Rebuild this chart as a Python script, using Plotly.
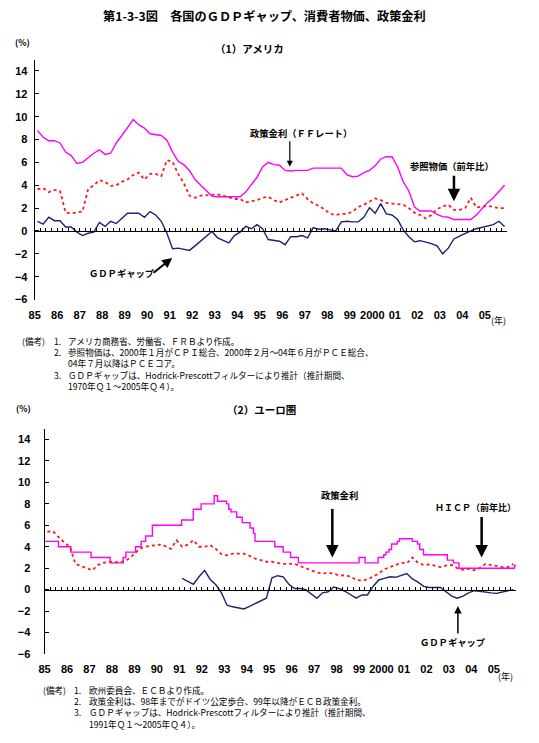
import plotly.graph_objects as go

# ---------------- data ----------------
YEARS = list(range(1985, 2006))
YEAR_LABELS = ["85", "86", "87", "88", "89", "90", "91", "92", "93", "94", "95",
               "96", "97", "98", "99", "2000", "01", "02", "03", "04", "05"]

# quarterly positions (quarter mid-points), 1985Q1 .. 2005Q4
Q_ALL = [y + (q + 0.5) / 4 for y in YEARS for q in range(4)]
Q_EURO_GAP = [y + (q + 0.5) / 4 for y in range(1991, 2006) for q in range(4)]

# (1) USA
us_ff = [8.8, 8.2, 7.9, 7.9,
         7.7, 6.9, 6.6, 5.9,
         6.0, 6.4, 6.8, 7.1,
         6.7, 6.8, 7.7, 8.35,
         9.1, 9.75, 9.3, 9.0,
         8.5, 8.4, 8.35, 7.95,
         6.9, 6.1, 5.8, 5.3,
         4.5, 4.0, 3.5, 3.05,
         3.0, 3.0, 3.0, 3.0,
         3.0, 3.4, 4.1, 4.7,
         5.6, 6.0, 5.8, 5.75,
         5.3, 5.25, 5.3, 5.3,
         5.3, 5.5, 5.5, 5.5,
         5.5, 5.5, 5.5, 4.9,
         4.75, 4.8, 5.1, 5.3,
         5.7, 6.3, 6.5, 6.5,
         5.6, 4.3, 3.5, 2.1,
         1.75, 1.75, 1.75, 1.45,
         1.25, 1.2, 1.0, 1.0,
         1.0, 1.0, 1.4, 1.95,
         2.5, 2.9, 3.45, 4.0]

us_cpi = [3.65, 3.75, 3.4, 3.6,
          3.5, 1.6, 1.55, 1.6,
          1.7, 3.65, 4.0, 4.45,
          4.3, 3.95, 4.0, 4.3,
          4.5, 4.9, 5.1, 4.5,
          5.0, 5.0, 4.8, 6.2,
          6.05, 5.0, 4.2, 3.1,
          2.9, 3.1, 3.1, 3.15,
          3.2, 3.1, 2.95, 2.8,
          2.8, 2.5, 2.6, 2.7,
          2.9, 3.0, 2.7, 2.5,
          2.7, 2.9, 3.1, 3.3,
          2.8, 2.4, 2.2, 1.9,
          1.5, 1.4, 1.5, 1.5,
          1.7, 2.1, 2.3, 2.6,
          2.85, 2.7, 2.45, 2.4,
          2.35, 2.3, 2.0, 1.6,
          1.4, 1.1, 1.4, 1.9,
          2.15, 2.3, 1.85, 1.85,
          2.0, 2.9, 2.05, 2.1,
          2.2, 2.1, 2.0, 2.0]

us_gap = [0.85, 0.6, 1.2, 0.9,
          0.9, 0.35, 0.35, -0.1,
          -0.4, -0.2, -0.1, 0.75,
          0.4, 0.85, 0.65, 1.1,
          1.55, 1.55, 1.55, 1.2,
          1.7, 1.4, 0.85, -0.2,
          -1.55, -1.5, -1.6, -1.7,
          -1.3, -0.9, -0.5, -0.05,
          -0.6, -0.8, -1.05, -0.4,
          -0.1, 0.4, 0.2, 0.55,
          0.2, -0.75, -0.85, -0.9,
          -1.2, -0.5, -0.5, -0.4,
          -0.6, 0.3, 0.15, 0.2,
          0.1, 0.0, 0.8, 0.85,
          0.8, 0.8, 1.2, 2.05,
          1.55, 2.4, 1.5, 1.4,
          1.0, 0.1, -0.5, -0.95,
          -0.85, -0.95, -1.1, -1.3,
          -2.0, -1.5, -0.7, -0.45,
          -0.2, 0.0, 0.2, 0.3,
          0.45, 0.55, 0.85, 0.4]

# (2) Euro area
euro_rate_dates = [1985.0, 1985.62, 1986.17, 1987.07, 1987.92, 1988.5, 1988.62,
                   1989.05, 1989.3, 1989.5, 1989.8, 1991.1, 1991.62, 1991.97,
                   1992.55, 1992.7, 1993.1, 1993.2, 1993.3, 1993.55, 1993.8,
                   1994.15, 1994.3, 1994.37, 1995.25, 1995.62, 1995.95, 1996.3,
                   1999.0, 1999.27, 1999.85, 2000.1, 2000.2, 2000.33, 2000.45,
                   2000.7, 2000.8, 2001.37, 2001.6, 2001.7, 2001.87, 2002.93,
                   2003.2, 2003.45, 2005.92, 2006.0]
euro_rate_levels = [4.5, 4.0, 3.5, 3.0, 2.5, 3.0, 3.5,
                    4.0, 4.5, 5.0, 6.0, 6.5, 7.5, 8.0,
                    8.75, 8.25, 8.0, 7.5, 7.25, 6.75, 6.25,
                    5.75, 5.25, 4.5, 4.0, 3.5, 3.0, 2.5,
                    3.0, 2.5, 3.0, 3.25, 3.5, 3.75, 4.25,
                    4.5, 4.75, 4.5, 4.25, 3.75, 3.25, 2.75,
                    2.5, 2.0, 2.25, 2.25]

euro_hicp = [5.4, 5.45, 4.9, 4.4,
             4.0, 2.4, 2.2, 2.0,
             1.8, 2.3, 2.5, 2.6,
             2.55, 2.55, 2.7, 3.1,
             3.6, 3.95, 4.05, 4.1,
             4.2, 4.05, 3.8, 4.6,
             4.0, 4.2, 4.6, 4.0,
             4.0, 4.15, 3.8, 3.3,
             3.2, 3.35, 3.35, 3.35,
             3.15, 2.9, 2.75, 2.6,
             2.6, 2.5, 2.4, 2.4,
             2.4, 2.2, 2.0, 1.8,
             1.6, 1.5, 1.55, 1.5,
             1.3, 1.35, 1.2, 0.9,
             0.85, 0.95, 1.2, 1.5,
             1.9, 2.1, 2.3, 2.5,
             2.45, 3.0, 2.5, 2.3,
             2.35, 2.2, 2.1, 2.25,
             2.3, 2.0, 1.85, 1.95,
             1.8, 2.0, 2.4, 2.3,
             2.2, 2.1, 2.1, 2.4]

euro_gap = [1.05, 0.8, 0.5, 1.2,
            1.8, 0.95, 0.45, -0.3,
            -1.45, -1.6, -1.7, -1.8,
            -1.55, -1.3, -1.05, -0.8,
            1.1, 1.3, 1.2, 0.5,
            0.1, 0.1, 0.0, -0.4,
            -0.8, -0.3, -0.2, 0.25,
            0.1, -0.15, -0.5, -0.8,
            -0.5, -0.5, 0.3, 0.9,
            1.05, 1.2, 1.15, 1.3,
            1.5, 1.0, 0.7, 0.3,
            0.2, 0.2, 0.2, -0.2,
            -0.6, -0.8, -0.6, -0.3,
            -0.1, -0.15, -0.25, -0.3,
            -0.35, -0.2, -0.1, 0.0]

US_NOTES = ["アメリカ商務省、労働省、ＦＲＢより作成。",
            "参照物価は、2000年１月がＣＰＩ総合、2000年２月～04年６月がＰＣＥ総合、",
            "04年７月以降はＰＣＥコア。",
            "ＧＤＰギャップは、Hodrick-Prescottフィルターにより推計（推計期間、",
            "1970年Ｑ１～2005年Ｑ４）。"]
EU_NOTES = ["欧州委員会、ＥＣＢより作成。",
            "政策金利は、98年までがドイツ公定歩合、99年以降がＥＣＢ政策金利。",
            "ＧＤＰギャップは、Hodrick-Prescottフィルターにより推計（推計期間、",
            "1991年Ｑ１～2005年Ｑ４）。"]

# ---------------- styling ----------------
W, H = 539, 743
MAGENTA = "#FF00FF"
RED = "#FF1A1A"
NAVY = "#1C2473"
JP = "Noto Sans CJK JP, sans-serif"
NUM = "Liberation Sans, Arial, sans-serif"


def PX(x):
    return x / W


def PY(y):
    return 1 - y / H


YMIN, YMAX = -6, 15
top_x = [PX(29), PX(507)]
top_y = [PY(302), PY(60)]
bot_x = [PX(39), PX(516)]
bot_y = [PY(659.3), PY(432.3)]


def zero_pos(dom):
    return dom[0] + (0 - YMIN) / (YMAX - YMIN) * (dom[1] - dom[0])


fig = go.Figure()

# top panel
fig.add_trace(go.Scatter(x=Q_ALL, y=us_ff, mode="lines", line=dict(color=MAGENTA, width=1.4),
                         xaxis="x", yaxis="y", showlegend=False))
fig.add_trace(go.Scatter(x=Q_ALL, y=us_cpi, mode="lines", line=dict(color=RED, width=1.8, dash="dot"),
                         xaxis="x", yaxis="y", showlegend=False))
fig.add_trace(go.Scatter(x=Q_ALL, y=us_gap, mode="lines", line=dict(color=NAVY, width=1.4),
                         xaxis="x3", yaxis="y", showlegend=False))
# bottom panel
fig.add_trace(go.Scatter(x=euro_rate_dates, y=euro_rate_levels, mode="lines", line_shape="hv",
                         line=dict(color=MAGENTA, width=1.4), xaxis="x2", yaxis="y2", showlegend=False))
fig.add_trace(go.Scatter(x=Q_ALL, y=euro_hicp, mode="lines", line=dict(color=RED, width=1.8, dash="dot"),
                         xaxis="x2", yaxis="y2", showlegend=False))
fig.add_trace(go.Scatter(x=Q_EURO_GAP, y=euro_gap, mode="lines", line=dict(color=NAVY, width=1.4),
                         xaxis="x4", yaxis="y2", showlegend=False))

tickfont = dict(family=NUM, size=11, color="black", weight="bold")


def label_axis(dom, anchor):
    return dict(domain=dom, range=[1985, 2006], anchor=anchor, tickmode="array",
                tickvals=YEARS, ticktext=YEAR_LABELS, showline=False, ticks="outside",
                tickcolor="rgba(0,0,0,0)", ticklen=5, tickfont=tickfont,
                showgrid=False, zeroline=False, fixedrange=True)


def value_axis(dom, anchor, standoff):
    return dict(domain=dom, range=[YMIN, YMAX], anchor=anchor, tick0=0, dtick=2,
                showline=True, linecolor="black", linewidth=1, ticks="inside", ticklen=4,
                tickcolor="black", tickfont=tickfont, showgrid=False, zeroline=False,
                ticklabelstandoff=standoff, fixedrange=True)


def zero_axis(dom_x, pos, over):
    return dict(domain=dom_x, range=[1985, 2006], overlaying=over, anchor="free", position=pos,
                tick0=1985, dtick=0.25, ticks="inside", ticklen=3, tickcolor="black",
                showline=True, linecolor="black", linewidth=1, showticklabels=False,
                showgrid=False, zeroline=False, fixedrange=True)


fig.update_layout(
    width=W, height=H, autosize=False,
    margin=dict(l=0, r=0, t=0, b=0),
    paper_bgcolor="white", plot_bgcolor="white",
    xaxis=label_axis(top_x, "y"),
    yaxis=value_axis(top_y, "x", 4),
    xaxis3=zero_axis(top_x, zero_pos(top_y), "x"),
    xaxis2=label_axis(bot_x, "y2"),
    yaxis2=value_axis(bot_y, "x2", 11),
    xaxis4=zero_axis(bot_x, zero_pos(bot_y), "x2"),
)

ann = []


def text(x, y, s, size=9.5, anchor="left", bold=True, family=JP, yanchor="middle"):
    ann.append(dict(x=PX(x), y=PY(y), xref="paper", yref="paper", text=s, showarrow=False,
                    xanchor=anchor, yanchor=yanchor, align="left",
                    font=dict(family=family, size=size, color="black",
                              weight="bold" if bold else "normal")))


def arrow(x0, y0, x1, y1, width):
    ann.append(dict(x=PX(x1), y=PY(y1), xref="paper", yref="paper", text="", showarrow=True,
                    ax=x0 - x1, ay=y0 - y1, axref="pixel", ayref="pixel",
                    arrowhead=2, arrowsize=1, arrowwidth=width, arrowcolor="black", standoff=0))


# titles
text(261, 16, "第1-3-3図　各国のＧＤＰギャップ、消費者物価、政策金利", size=12.2, anchor="center")
text(246, 49, "（1）アメリカ", size=10.5, anchor="center")
text(258, 413, "（2）ユーロ圏", size=10.5, anchor="center")
text(7, 42, "(%)", size=8.5)
text(8, 411, "(%)", size=8.5)
text(498, 323, "(年)", size=9, anchor="center", bold=False)
text(505, 682, "(年)", size=9, anchor="center", bold=False)

# series labels, top
text(245, 134, "政策金利（ＦＦレート）", size=9.3)
arrow(287, 141, 287, 168, 1.2)
text(407, 167, "参照物価（前年比）", size=9.3)
arrow(453, 176, 453, 203, 2.5)
text(82, 275, "ＧＤＰギャップ", size=9.3)
arrow(148, 276, 168, 260, 2)

# series labels, bottom
text(337, 499, "政策金利", size=9.3, anchor="center")
arrow(330, 512, 330, 562, 2.5)
text(432, 512, "ＨＩＣＰ（前年比）", size=9.0)
arrow(481, 520, 481, 562, 2.5)
text(417, 647, "ＧＤＰギャップ", size=9.3)
arrow(457, 640, 457, 611, 1.5)

# notes (one block per column)
NS = 8.6
text(14, 336, "(備考)", size=NS, bold=False, yanchor="top")
text(47, 336, "1.<br>2.<br> <br>3.", size=NS, bold=False, yanchor="top")
text(61, 336, "<br>".join(US_NOTES), size=NS, bold=False, yanchor="top")

text(35, 688, "(備考)", size=NS, bold=False, yanchor="top")
text(67, 688, "1.<br>2.<br>3.", size=NS, bold=False, yanchor="top")
text(82, 688, "<br>".join(EU_NOTES), size=NS, bold=False, yanchor="top")

fig.update_layout(annotations=ann)
fig.write_html("out.html", post_script="document.body.style.margin='0px';",
               config={"displayModeBar": False})
